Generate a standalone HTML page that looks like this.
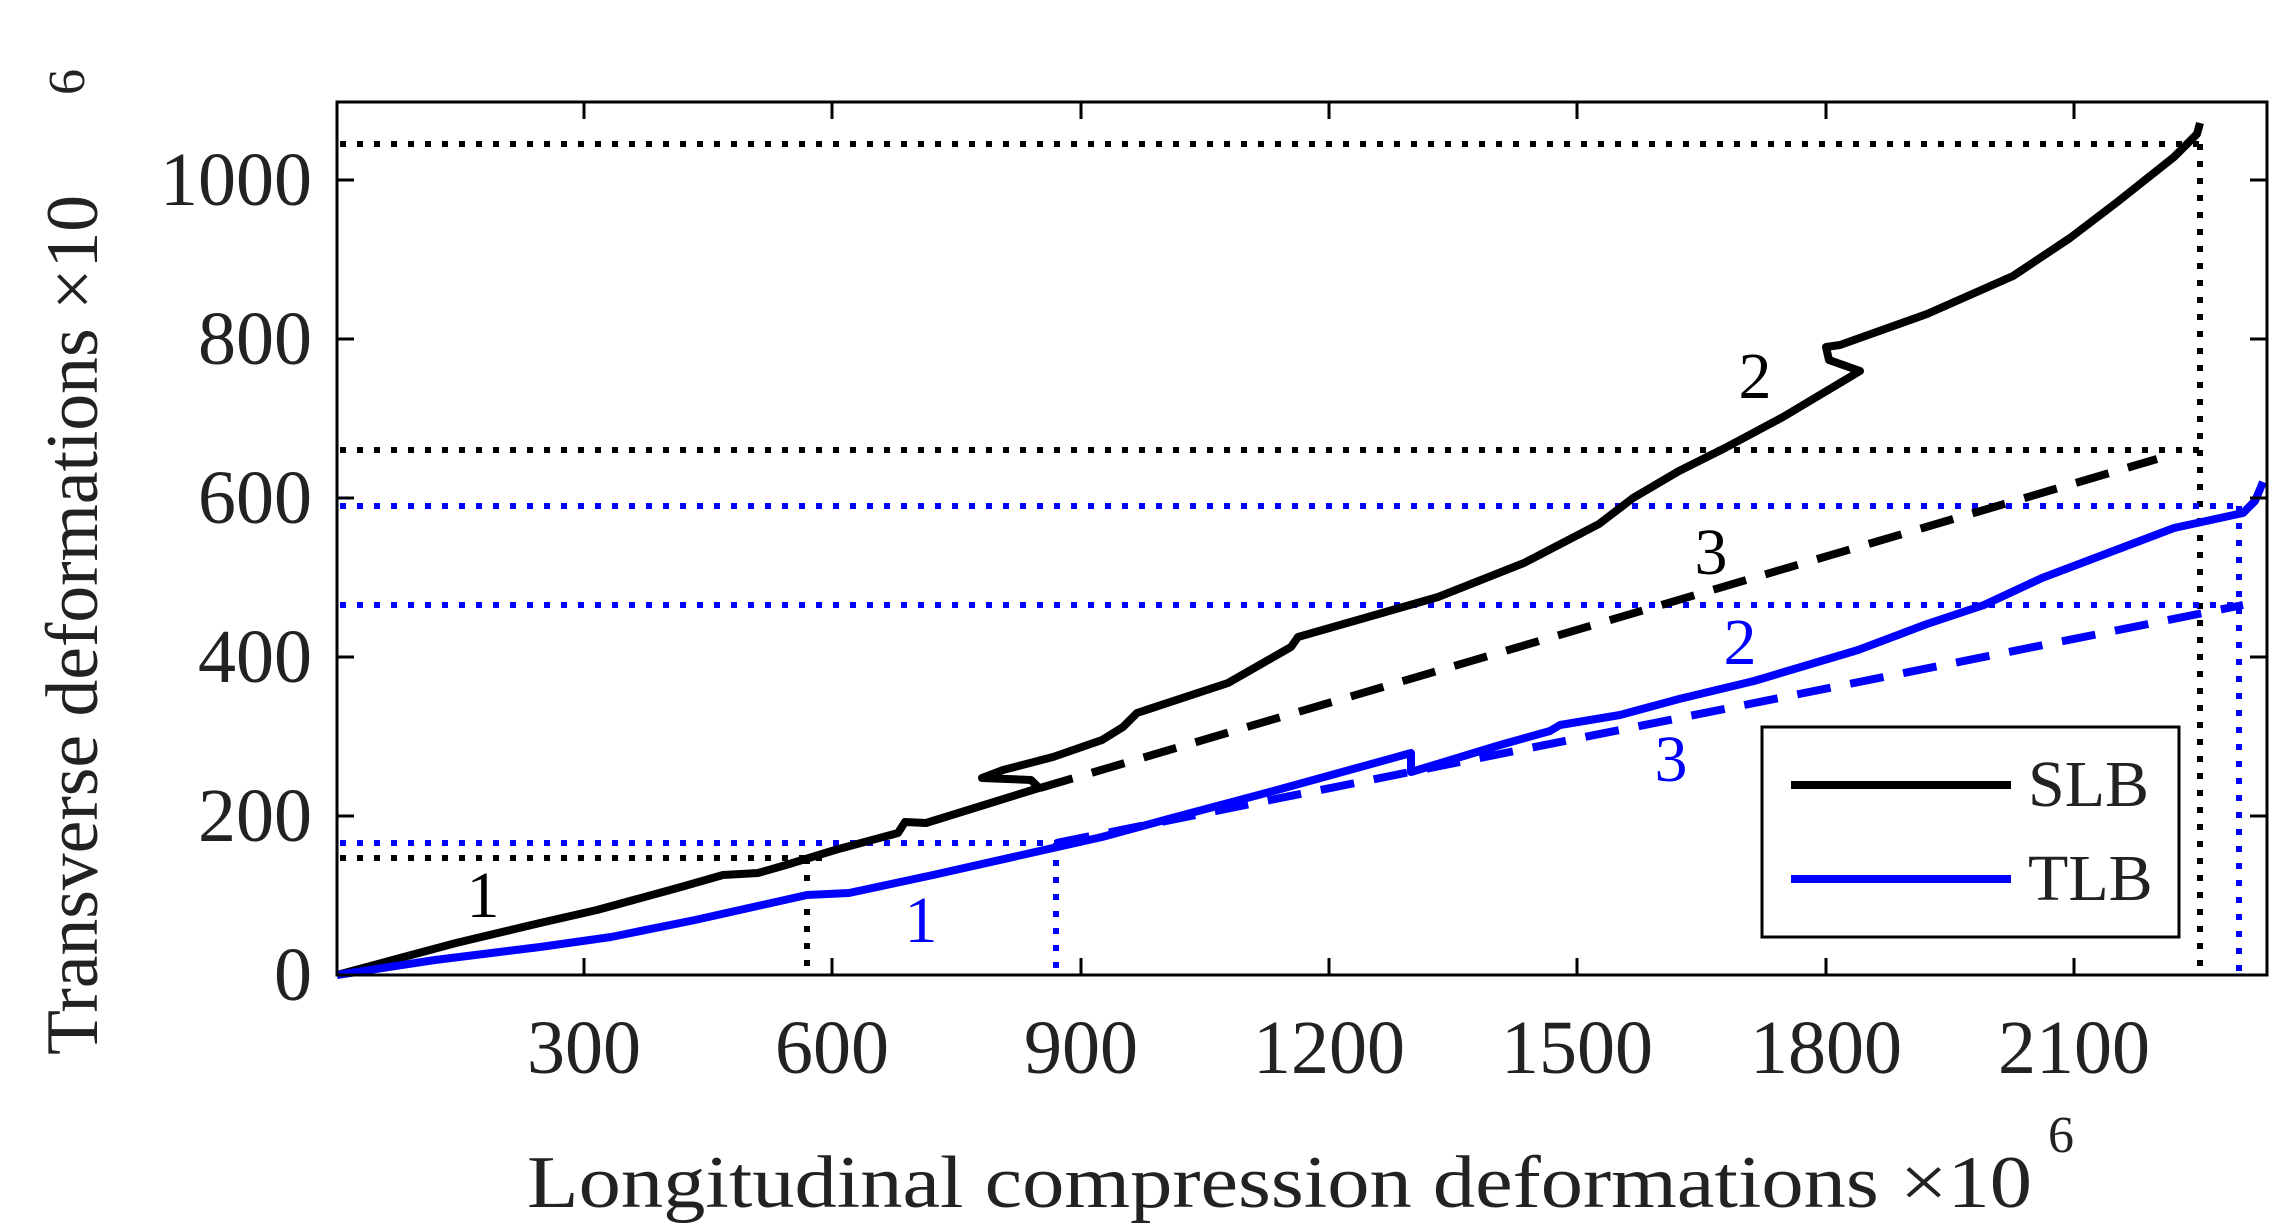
<!DOCTYPE html>
<html><head><meta charset="utf-8"><style>html,body{margin:0;padding:0;background:#fff}svg{display:block}</style></head>
<body>
<svg width="2293" height="1230" viewBox="0 0 2293 1230" xmlns="http://www.w3.org/2000/svg" font-family="Liberation Serif, serif">
<rect width="2293" height="1230" fill="#fff"/>
<g fill="none" stroke-width="6" stroke-dasharray="6 11">
<g stroke="#000">
<line x1="340" y1="144" x2="2200" y2="144"/>
<line x1="340" y1="450" x2="2200" y2="450"/>
<line x1="340" y1="858" x2="825" y2="858"/>
<line x1="807" y1="858" x2="807" y2="975"/>
<line x1="2200" y1="144" x2="2200" y2="975"/>
</g>
<g stroke="#0000ff">
<line x1="340" y1="506" x2="2240" y2="506"/>
<line x1="340" y1="605" x2="2240" y2="605"/>
<line x1="340" y1="843" x2="1056" y2="843"/>
<line x1="1056" y1="843" x2="1056" y2="975"/>
<line x1="2239" y1="506" x2="2239" y2="975"/>
</g>
</g>
<line x1="1040" y1="788" x2="2157" y2="459" stroke="#000" stroke-width="8" stroke-dasharray="34 20"/>
<line x1="1056" y1="843" x2="2243" y2="605" stroke="#0000ff" stroke-width="8" stroke-dasharray="34 20"/>
<polyline fill="none" stroke="#000" stroke-width="8" stroke-linejoin="round" points="337,975 400,958 456,943 540,923 597,910 681,887 723,875 758,873 786,865 835,850 898,833 905,822 926,823 1039,788 1031,780 982,778 1003,770 1053,757 1102,740 1123,727 1137,713 1228,683 1263,663 1291,647 1298,637 1347,623 1438,597 1524,563 1599,524 1633,498 1679,471 1725,448 1783,417 1860,371 1829,360 1826,347 1840,345 1927,314 2013,276 2070,238 2116,203 2174,157 2197,134 2200,123"/>
<polyline fill="none" stroke="#0000ff" stroke-width="8" stroke-linejoin="round" points="337,975 435,960 540,947 611,937 695,920 807,895 849,893 933,875 1053,848 1102,837 1172,818 1277,790 1411,753 1411,772 1500,745 1550,731 1560,725 1620,715 1679,699 1754,681 1858,650 1927,624 1984,605 2042,578 2174,528 2243,513 2255,501 2263,482"/>
<rect x="337" y="102" width="1930" height="873" fill="none" stroke="#000" stroke-width="3"/>
<g stroke="#000" stroke-width="3">
<line x1="584" y1="975" x2="584" y2="958"/><line x1="832" y1="975" x2="832" y2="958"/><line x1="1081" y1="975" x2="1081" y2="958"/><line x1="1329" y1="975" x2="1329" y2="958"/><line x1="1577" y1="975" x2="1577" y2="958"/><line x1="1826" y1="975" x2="1826" y2="958"/><line x1="2074" y1="975" x2="2074" y2="958"/>
<line x1="584" y1="102" x2="584" y2="119"/><line x1="832" y1="102" x2="832" y2="119"/><line x1="1081" y1="102" x2="1081" y2="119"/><line x1="1329" y1="102" x2="1329" y2="119"/><line x1="1577" y1="102" x2="1577" y2="119"/><line x1="1826" y1="102" x2="1826" y2="119"/><line x1="2074" y1="102" x2="2074" y2="119"/>
<line x1="337" y1="816" x2="354" y2="816"/><line x1="337" y1="657" x2="354" y2="657"/><line x1="337" y1="498" x2="354" y2="498"/><line x1="337" y1="339" x2="354" y2="339"/><line x1="337" y1="180" x2="354" y2="180"/>
<line x1="2267" y1="816" x2="2250" y2="816"/><line x1="2267" y1="657" x2="2250" y2="657"/><line x1="2267" y1="498" x2="2250" y2="498"/><line x1="2267" y1="339" x2="2250" y2="339"/><line x1="2267" y1="180" x2="2250" y2="180"/>
</g>
<g font-size="76" fill="#222" text-anchor="middle">
<text x="584" y="1073">300</text><text x="832" y="1073">600</text><text x="1081" y="1073">900</text><text x="1329" y="1073">1200</text><text x="1577" y="1073">1500</text><text x="1826" y="1073">1800</text><text x="2074" y="1073">2100</text>
</g>
<g font-size="76" fill="#222" text-anchor="end">
<text x="312" y="1000">0</text><text x="312" y="841">200</text><text x="312" y="682">400</text><text x="312" y="523">600</text><text x="312" y="364">800</text><text x="312" y="205">1000</text>
</g>
<text x="527" y="1207" font-size="74" fill="#222" textLength="1505" lengthAdjust="spacingAndGlyphs">Longitudinal compression deformations ×10</text>
<text x="2048" y="1152" font-size="52" fill="#222">6</text>
<text transform="translate(97,1055) rotate(-90)" font-size="74" fill="#222" textLength="860" lengthAdjust="spacingAndGlyphs">Transverse deformations ×10</text>
<text transform="translate(84,95) rotate(-90)" font-size="52" fill="#222">6</text>
<g font-size="66">
<text x="483" y="917" fill="#000" text-anchor="middle">1</text>
<text x="1755" y="398" fill="#000" text-anchor="middle">2</text>
<text x="1711" y="574" fill="#000" text-anchor="middle">3</text>
<text x="921" y="942" fill="#0000ff" text-anchor="middle">1</text>
<text x="1740" y="664" fill="#0000ff" text-anchor="middle">2</text>
<text x="1671" y="781" fill="#0000ff" text-anchor="middle">3</text>
</g>
<rect x="1762" y="727" width="417" height="210" fill="#fff" stroke="#000" stroke-width="3"/>
<line x1="1791" y1="785" x2="2011" y2="785" stroke="#000" stroke-width="8"/>
<line x1="1791" y1="879" x2="2011" y2="879" stroke="#0000ff" stroke-width="8"/>
<text x="2028" y="806" font-size="66" fill="#222">SLB</text>
<text x="2028" y="900" font-size="66" fill="#222">TLB</text>
</svg>
</body></html>
